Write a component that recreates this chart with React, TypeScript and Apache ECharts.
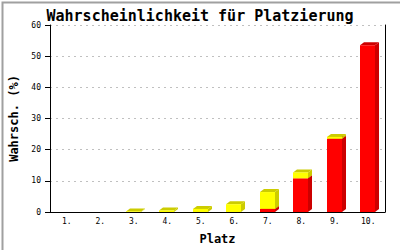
import React, { useEffect, useRef } from "react";
import * as echarts from "echarts";

const categories = ["1.", "2.", "3.", "4.", "5.", "6.", "7.", "8.", "9.", "10."];
const redValues = [0, 0, 0, 0, 0, 0, 1.0, 10.8, 23.5, 53.5];
const yellowValues = [0, 0, 0.2, 0.5, 1.0, 2.5, 5.4, 1.9, 0.6, 0];
const yTicks = { min: 0, max: 60, interval: 10 };

const MONO = "DejaVu Sans Mono";

function make3d(front: string, dark: string) {
  return (params: any, api: any) => {
    const i = api.value(0);
    const base = api.value(1);
    const top = api.value(2);
    if (top - base <= 0) return null;
    const pTop = api.coord([i, top]);
    const pBase = api.coord([i, base]);
    const bw = api.size([1, 0])[0] * 0.44;
    const x0 = Math.round(pTop[0] - bw / 2 - 0.5);
    const x1 = x0 + Math.round(bw);
    const yt = pTop[1];
    const yb = pBase[1];
    const dx = 4;
    const dy = 3;
    return {
      type: "group",
      children: [
        {
          type: "polygon",
          shape: { points: [[x1, yb], [x1 + dx, yb - dy], [x1 + dx, yt - dy], [x1, yt]] },
          style: { fill: dark },
        },
        {
          type: "polygon",
          shape: { points: [[x0, yt], [x0 + dx, yt - dy], [x1 + dx, yt - dy], [x1, yt]] },
          style: { fill: dark },
        },
        {
          type: "rect",
          shape: { x: x0, y: yt, width: x1 - x0, height: Math.max(yb - yt, 0) },
          style: { fill: front },
        },
      ],
    };
  };
}

export default function App() {
  const ref = useRef<HTMLDivElement>(null);
  useEffect(() => {
    if (!ref.current) return;
    const chart = echarts.init(ref.current, undefined, { renderer: "svg" });
    const redData = categories.map((_, i) => [i, 0, redValues[i]]);
    const yellowData = categories.map((_, i) => [i, redValues[i], redValues[i] + yellowValues[i]]);
    chart.setOption({
      animation: false,
      backgroundColor: "#ffffff",
      title: {
        text: "Wahrscheinlichkeit für Platzierung",
        left: "center",
        top: 3,
        textStyle: { fontFamily: MONO, fontSize: 15, fontWeight: "bold", color: "#000" },
      },
      graphic: [
        {
          type: "rect",
          left: 0,
          top: 0,
          shape: { x: 0, y: 0, width: 399, height: 249 },
          style: { fill: "none", stroke: "#a0a0a0", lineWidth: 2 },
          silent: true,
        },
      ],
      grid: { left: 43, right: 15, top: 25, bottom: 36 },
      xAxis: {
        type: "category",
        data: categories,
        name: "Platz",
        nameLocation: "middle",
        nameGap: 21,
        nameTextStyle: { fontFamily: MONO, fontSize: 12, fontWeight: "bold", color: "#000" },
        axisLine: { lineStyle: { color: "#000", width: 1 } },
        axisTick: { show: false },
        axisLabel: { fontFamily: MONO, fontSize: 8, color: "#000", margin: 5 },
      },
      yAxis: [
        {
          type: "value",
          min: yTicks.min,
          max: yTicks.max,
          interval: yTicks.interval,
          name: "Wahrsch. (%)",
          nameLocation: "middle",
          nameGap: 30,
          nameTextStyle: { fontFamily: MONO, fontSize: 12, fontWeight: "bold", color: "#000" },
          axisLine: { show: true, lineStyle: { color: "#000", width: 1 } },
          axisTick: { show: true, length: 5, lineStyle: { color: "#000" } },
          axisLabel: { fontFamily: MONO, fontSize: 8, color: "#000", margin: 9 },
          splitLine: { show: true, lineStyle: { color: "#c0c0c0", type: [2, 4] } },
        },
        {
          type: "value",
          position: "right",
          min: yTicks.min,
          max: yTicks.max,
          interval: yTicks.interval,
          axisLine: { show: true, lineStyle: { color: "#000", width: 1 } },
          axisTick: { show: false },
          axisLabel: { show: false },
          splitLine: { show: false },
        },
      ],
      series: [
        {
          type: "custom",
          name: "rot",
          renderItem: make3d("#ff0000", "#cc0000"),
          data: redData,
          encode: { x: 0, y: [1, 2] },
          clip: false,
          z: 3,
        },
        {
          type: "custom",
          name: "gelb",
          renderItem: make3d("#ffff00", "#cccc00"),
          data: yellowData,
          encode: { x: 0, y: [1, 2] },
          clip: false,
          z: 4,
        },
      ],
    });
    return () => chart.dispose();
  }, []);
  return (
    <div
      ref={ref}
      style={{ position: "fixed", left: 0, top: 0, width: 400, height: 250 }}
    />
  );
}
